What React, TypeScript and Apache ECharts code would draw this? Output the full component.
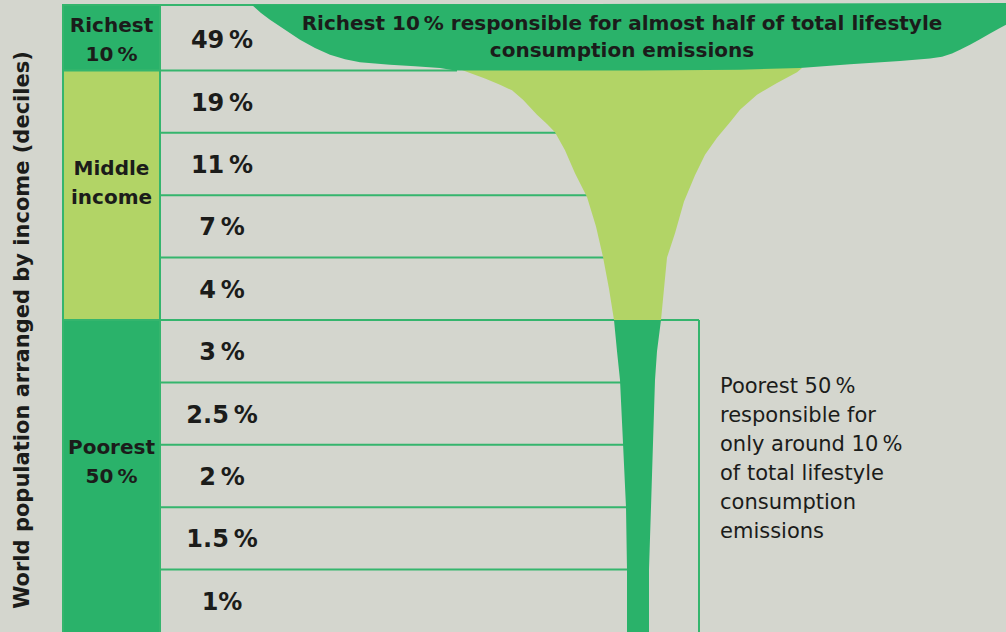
import React, { useEffect, useRef } from "react";
import * as echarts from "echarts";

// ---------- data ----------
const decileNames = [
  "Decile 10 (richest)", "Decile 9", "Decile 8", "Decile 7", "Decile 6",
  "Decile 5", "Decile 4", "Decile 3", "Decile 2", "Decile 1 (poorest)",
];
const emissionShares = [49, 19, 11, 7, 4, 3, 2.5, 2, 1.5, 1];
const shareLabels = ["49\u2009%", "19\u2009%", "11\u2009%", "7\u2009%", "4\u2009%", "3\u2009%", "2.5\u2009%", "2\u2009%", "1.5\u2009%", "1%"];
const groupNames = ["Richest\n10\u2009%", "Middle\nincome", "Poorest\n50\u2009%"];
const groupDecileCounts = [1, 4, 5];

// champagne-glass outline: [horizontal unit, decile level]
const bowlLeftEdge = [
  [252, 10.05], [261, 9.92], [270, 9.81], [285, 9.65], [300, 9.49], [315, 9.36],
  [330, 9.25], [345, 9.18], [360, 9.13], [375, 9.11], [390, 9.09], [415, 9.065],
  [440, 9.04], [455, 9.0],
];
const bowlRightEdge = [
  [1010, 10.08], [1010, 9.77], [1006, 9.73], [999, 9.67], [990, 9.59], [980, 9.5],
  [970, 9.41], [960, 9.33], [952, 9.27], [942, 9.22], [930, 9.19], [900, 9.15],
  [850, 9.1], [800, 9.04], [740, 9.01], [640, 9.0],
];
const upperStemLeft = [
  [460, 9.02], [470, 8.96], [485, 8.87], [500, 8.77], [512, 8.68], [523, 8.53],
  [537, 8.29], [547, 8.14], [555, 8.01], [565, 7.72], [575, 7.35], [587, 6.97],
  [596, 6.5], [603, 6.01], [609, 5.5], [614, 5.0],
];
const upperStemRight = [
  [661, 5.0], [664, 5.5], [667, 6.0], [675, 6.39], [684, 6.9], [695, 7.32],
  [705, 7.65], [717, 7.92], [730, 8.17], [740, 8.37], [757, 8.61], [777, 8.8],
  [797, 8.97], [802, 9.04],
];
const lowerStemLeft = [
  [614, 5.0], [617, 4.5], [620, 4.04], [623, 3.03], [626, 2.0], [627, 1.0], [627, -0.3],
];
const lowerStemRight = [
  [649, -0.3], [649, 1.0], [651, 2.0], [653, 3.03], [655, 4.04], [657, 4.5], [661, 5.0],
];

// ---------- style / layout ----------
const BG = "#d4d6ce";
const DARK = "#2ab26a";
const LIGHT = "#b2d466";
const LINE = "#35b56d";
const INK = "#1b1c1a";
const FONT = "'DejaVu Sans', Verdana, sans-serif";
const groupFills = [DARK, LIGHT, DARK];
const groupLabelNudge = [2, -13, -15];
const GROUP_LEFT = 63;
const VALUE_LEFT = 160;
const VALUE_CENTER = 222;
const FRAME_RIGHT = 699;
const TOP_LEVEL = 10.05;
const BOTTOM_LEVEL = -0.3;

const glassShapes = [
  upperStemLeft.concat(upperStemRight),
  lowerStemLeft.concat(lowerStemRight),
  bowlLeftEdge.concat(bowlRightEdge.slice().reverse()),
];
const glassFills = [LIGHT, DARK, DARK];

const leftEdge = bowlLeftEdge.concat(upperStemLeft.slice(1), lowerStemLeft.slice(1));
function glassLeftAt(level: number): number {
  for (let i = 0; i < leftEdge.length - 1; i++) {
    const [x0, y0] = leftEdge[i];
    const [x1, y1] = leftEdge[i + 1];
    if (level <= y0 && level >= y1) {
      const t = y0 === y1 ? 0 : (y0 - level) / (y0 - y1);
      return x0 + t * (x1 - x0);
    }
  }
  return leftEdge[leftEdge.length - 1][0];
}

export default function App() {
  const ref = useRef<HTMLDivElement>(null);
  useEffect(() => {
    if (!ref.current) return;
    const chart = echarts.init(ref.current, undefined, { renderer: "svg" });
    const n = decileNames.length;

    const groupSpans: [number, number][] = [];
    let lvl = n;
    groupDecileCounts.forEach((c, i) => {
      const top = i === 0 ? TOP_LEVEL : lvl;
      const bottom = lvl - c === 0 ? BOTTOM_LEVEL : lvl - c;
      groupSpans.push([top, bottom]);
      lvl -= c;
    });

    const poorestTop = groupDecileCounts[groupDecileCounts.length - 1];
    const separators: number[] = [];
    for (let k = n - 1; k >= 1; k--) if (k !== poorestTop) separators.push(k);

    const option: any = {
      animation: false,
      backgroundColor: BG,
      grid: { left: 0, right: 0, top: 632 - 10.1 * 62.4, bottom: 0 },
      xAxis: { type: "value", min: 0, max: 1006, show: false },
      yAxis: { type: "value", min: 0, max: 10.1, show: false },
      series: [
        {
          type: "custom",
          name: "groups",
          z: 2,
          data: groupNames.map((_, i) => [i, 0]),
          renderItem: (params: any, api: any) => {
            const i = params.dataIndex;
            const [top, bottom] = groupSpans[i];
            const p0 = api.coord([GROUP_LEFT, top]);
            const p1 = api.coord([VALUE_LEFT, bottom]);
            const mid = api.coord([(GROUP_LEFT + VALUE_LEFT) / 2, (top + Math.max(bottom, 0)) / 2]);
            return {
              type: "group",
              children: [
                {
                  type: "rect",
                  shape: { x: p0[0], y: p0[1], width: p1[0] - p0[0], height: p1[1] - p0[1] },
                  style: { fill: groupFills[i], stroke: LINE, lineWidth: 2 },
                },
                {
                  type: "text",
                  x: mid[0],
                  y: mid[1] + groupLabelNudge[i],
                  style: {
                    text: groupNames[i], fill: INK, font: `bold 20px ${FONT}`,
                    align: "center", verticalAlign: "middle", lineHeight: 29,
                  },
                },
              ],
            };
          },
        },
        {
          type: "custom",
          name: "frame",
          z: 2,
          data: [[0, 0]],
          renderItem: (_p: any, api: any) => {
            const line = (a: number[], b: number[]) => {
              const pa = api.coord(a), pb = api.coord(b);
              return {
                type: "line",
                shape: { x1: pa[0], y1: pa[1], x2: pb[0], y2: pb[1] },
                style: { stroke: LINE, lineWidth: 2 },
              };
            };
            const poorTop = groupDecileCounts[groupDecileCounts.length - 1];
            return {
              type: "group",
              children: [
                line([GROUP_LEFT, TOP_LEVEL], [1006, TOP_LEVEL]),
                line([VALUE_LEFT, TOP_LEVEL], [VALUE_LEFT, BOTTOM_LEVEL]),
                line([VALUE_LEFT, poorTop], [FRAME_RIGHT, poorTop]),
                line([FRAME_RIGHT, poorTop], [FRAME_RIGHT, BOTTOM_LEVEL]),
              ],
            };
          },
        },
        {
          type: "custom",
          name: "separators",
          z: 2,
          data: separators.map((k) => [k, k]),
          renderItem: (params: any, api: any) => {
            const k = separators[params.dataIndex];
            const pa = api.coord([VALUE_LEFT, k]);
            const pb = api.coord([glassLeftAt(k) + 2, k]);
            return {
              type: "line",
              shape: { x1: pa[0], y1: pa[1], x2: pb[0], y2: pb[1] },
              style: { stroke: LINE, lineWidth: 2 },
            };
          },
        },
        {
          type: "custom",
          name: "glass",
          z: 3,
          data: glassShapes.map((_, i) => [i, 0]),
          renderItem: (params: any, api: any) => {
            const i = params.dataIndex;
            const pts = glassShapes[i].map((p) => api.coord(p));
            return { type: "polygon", shape: { points: pts }, style: { fill: glassFills[i] } };
          },
        },
        {
          type: "custom",
          name: "shares",
          z: 4,
          data: emissionShares.map((v, i) => [VALUE_CENTER, n - i - 0.5, v]),
          renderItem: (params: any, api: any) => {
            const p = api.coord([api.value(0), api.value(1)]);
            return {
              type: "text",
              x: p[0],
              y: p[1] + 1,
              style: {
                text: shareLabels[params.dataIndex], fill: INK, font: `bold 24px ${FONT}`,
                align: "center", verticalAlign: "middle",
              },
            };
          },
        },
      ],
      graphic: [
        {
          type: "text",
          x: 22,
          y: 330,
          rotation: Math.PI / 2,
          z: 10,
          style: {
            text: "World population arranged by income (deciles)",
            fill: INK, font: `bold 21px ${FONT}`, align: "center", verticalAlign: "middle",
          },
        },
        {
          type: "text",
          x: 622,
          y: 36,
          z: 10,
          style: {
            text: "Richest 10\u2009% responsible for almost half of total lifestyle\nconsumption emissions",
            fill: INK, font: `bold 20px ${FONT}`, align: "center", verticalAlign: "middle", lineHeight: 27,
          },
        },
        {
          type: "text",
          x: 720,
          y: 371,
          z: 10,
          style: {
            text: "Poorest 50\u2009%\nresponsible for\nonly around 10\u2009%\nof total lifestyle\nconsumption\nemissions",
            fill: INK, font: `21px ${FONT}`, align: "left", verticalAlign: "top", lineHeight: 29,
          },
        },
      ],
    };
    chart.setOption(option);
    return () => chart.dispose();
  }, []);
  return (
    <div
      ref={ref}
      style={{ position: "fixed", left: 0, top: 0, width: 1006, height: 632 }}
    />
  );
}
